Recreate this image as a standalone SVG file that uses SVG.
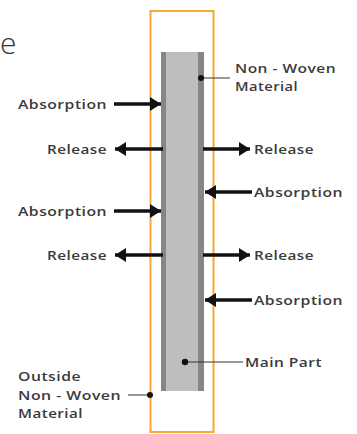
<svg xmlns="http://www.w3.org/2000/svg" width="357" height="434" viewBox="0 0 357 434">
<defs>
<style>
.t{font-family:"Open Sans","Liberation Sans",sans-serif;font-size:13px;font-weight:600;fill:#3a3a3a;letter-spacing:0.4px}
.ar{stroke:#111;stroke-width:3.5;fill:none}
.ld{stroke:#333;stroke-width:1;fill:none}
</style>
<marker id="ah" markerUnits="userSpaceOnUse" markerWidth="12" markerHeight="14" refX="11" refY="7" orient="auto">
<path d="M0,0 L11,7 L0,14 Z" fill="#111"/>
</marker>
</defs>
<rect width="357" height="434" fill="#fff"/>
<text x="0" y="54" font-family="'Open Sans','Liberation Sans',sans-serif" font-size="30" font-weight="300" fill="#333">e</text>
<g id="outer">
<rect x="150.5" y="11" width="63" height="421" fill="none" stroke="#F7A733" stroke-width="2"/>
</g>
<g id="main-part">
<rect x="161" y="52" width="43" height="339" fill="#BFBEBC"/>
<rect x="161" y="52" width="5" height="339" fill="#868686"/>
<rect x="198" y="52" width="6" height="339" fill="#868686"/>
</g>
<g id="connectors">
<path class="ar" d="M114,104 L161,104" marker-end="url(#ah)"/>
<path class="ar" d="M163,149 L115,149" marker-end="url(#ah)"/>
<path class="ar" d="M203,149 L250,149" marker-end="url(#ah)"/>
<path class="ar" d="M252,192 L205,192" marker-end="url(#ah)"/>
<path class="ar" d="M114,211 L161,211" marker-end="url(#ah)"/>
<path class="ar" d="M163,255 L115,255" marker-end="url(#ah)"/>
<path class="ar" d="M203,255 L250,255" marker-end="url(#ah)"/>
<path class="ar" d="M252,300 L205,300" marker-end="url(#ah)"/>
<path class="ld" d="M201,78 L230,78"/>
<circle cx="201" cy="78" r="3" fill="#111"/>
<path class="ld" d="M185,362 L243,362"/>
<circle cx="185" cy="362" r="3.2" fill="#111"/>
<path class="ld" d="M128,395 L149,395"/>
<circle cx="150" cy="395" r="3" fill="#111"/>
</g>
<g id="labels">
<text class="t" x="18" y="109" textLength="89" lengthAdjust="spacingAndGlyphs">Absorption</text>
<text class="t" x="47" y="154" textLength="60" lengthAdjust="spacingAndGlyphs">Release</text>
<text class="t" x="254" y="154" textLength="60" lengthAdjust="spacingAndGlyphs">Release</text>
<text class="t" x="254" y="197" textLength="89" lengthAdjust="spacingAndGlyphs">Absorption</text>
<text class="t" x="18" y="216" textLength="89" lengthAdjust="spacingAndGlyphs">Absorption</text>
<text class="t" x="47" y="260" textLength="60" lengthAdjust="spacingAndGlyphs">Release</text>
<text class="t" x="254" y="260" textLength="60" lengthAdjust="spacingAndGlyphs">Release</text>
<text class="t" x="254" y="305" textLength="89" lengthAdjust="spacingAndGlyphs">Absorption</text>
<text class="t" x="235" y="73" textLength="101" lengthAdjust="spacingAndGlyphs">Non - Woven</text>
<text class="t" x="235" y="91" textLength="63" lengthAdjust="spacingAndGlyphs">Material</text>
<text class="t" x="245" y="367" textLength="77" lengthAdjust="spacingAndGlyphs">Main Part</text>
<text class="t" x="18" y="381" textLength="63" lengthAdjust="spacingAndGlyphs">Outside</text>
<text class="t" x="18" y="400" textLength="103" lengthAdjust="spacingAndGlyphs">Non - Woven</text>
<text class="t" x="18" y="418" textLength="65" lengthAdjust="spacingAndGlyphs">Material</text>
</g>
</svg>
